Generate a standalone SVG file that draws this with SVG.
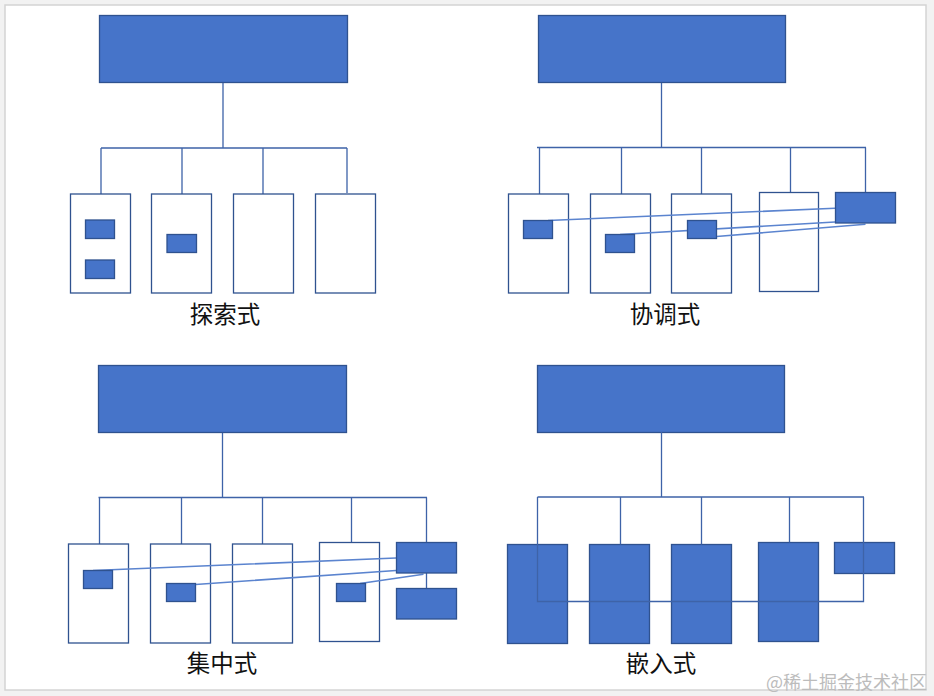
<svg xmlns="http://www.w3.org/2000/svg" width="934" height="696" viewBox="0 0 934 696">
<style>
.bg{fill:#f2f2f2}
.card{fill:#ffffff;stroke:#d4d4d4;stroke-width:1.5}
.top{fill:#4674C9;stroke:#2F528F;stroke-width:1.3}
.box{fill:#ffffff;stroke:#2F528F;stroke-width:1.3}
.fill{fill:#4674C9;stroke:#2F528F;stroke-width:1.3}
.tree{fill:none;stroke:#3E63A8;stroke-width:1.3}
.link{fill:none;stroke:#5B84CF;stroke-width:1.6}
.label{font-family:"Noto Sans CJK SC","Noto Sans CJK JP",sans-serif;font-size:23.5px;fill:#111111;text-anchor:middle}
.wm{font-family:"Noto Sans CJK SC",sans-serif;font-size:18px;fill:#bcbcbc;text-anchor:end}
</style>
<rect class="bg" x="0" y="0" width="934" height="696"/>
<rect class="card" x="5" y="5" width="921" height="685"/>

<!-- Panel 1: 探索式 -->
<g id="p1-connectors">
  <path class="tree" d="M223 82V148M101 148H347M101 148V194M182 148V194M263 148V194M347 148V193"/>
</g>
<g id="p1-top"><rect class="top" x="99.5" y="15.5" width="248" height="67"/></g>
<g id="p1-b1"><rect class="box" x="70.5" y="194" width="60" height="99"/>
  <rect class="fill" x="85.5" y="220" width="29" height="18.5"/>
  <rect class="fill" x="85.5" y="260" width="29" height="18.5"/></g>
<g id="p1-b2"><rect class="box" x="151.5" y="194" width="60" height="99"/>
  <rect class="fill" x="167" y="234.5" width="29.5" height="18"/></g>
<g id="p1-b3"><rect class="box" x="233.5" y="194" width="60" height="99"/></g>
<g id="p1-b4"><rect class="box" x="315.5" y="194" width="60" height="99"/></g>
<g id="p1-label"><text class="label" x="225" y="322.5">探索式</text></g>

<!-- Panel 2: 协调式 -->
<g id="p2-connectors">
  <path class="tree" d="M661.5 82V147.5M537 147.5H866M539.5 147.5V194M621.5 147.5V194M701.5 147.5V194M790.5 147.5V192M865.5 147.5V192"/>
</g>
<g id="p2-top"><rect class="top" x="538.5" y="15.5" width="247" height="67"/></g>
<g id="p2-b1"><rect class="box" x="508.5" y="194" width="60" height="99"/></g>
<g id="p2-b2"><rect class="box" x="590.5" y="194" width="60" height="99"/></g>
<g id="p2-b3"><rect class="box" x="671.5" y="194" width="60" height="99"/></g>
<g id="p2-b4"><rect class="box" x="759.5" y="192.5" width="59" height="99"/></g>
<g id="p2-links">
  <path class="link" d="M548 220.5L835 208.3M620 234.5L835 222M716.5 236.5L865.5 224.3"/>
</g>
<g id="p2-s1"><rect class="fill" x="523.5" y="220.5" width="29" height="18"/></g>
<g id="p2-s2"><rect class="fill" x="605.5" y="234.5" width="29" height="18"/></g>
<g id="p2-s3"><rect class="fill" x="687.5" y="220.5" width="29" height="18"/></g>
<g id="p2-hub"><rect class="fill" x="835.5" y="192.5" width="60" height="30.5"/></g>
<g id="p2-label"><text class="label" x="665" y="322.5">协调式</text></g>

<!-- Panel 3: 集中式 -->
<g id="p3-connectors">
  <path class="tree" d="M222.5 432V497.5M98.5 497.5H427M99.5 497.5V544M181.5 497.5V544M262.5 497.5V544M351.5 497.5V542.5M426.5 497.5V542.5M426.5 573V588.5"/>
</g>
<g id="p3-top"><rect class="top" x="98.5" y="365.5" width="248" height="67"/></g>
<g id="p3-b1"><rect class="box" x="68.5" y="544" width="60" height="99"/></g>
<g id="p3-b2"><rect class="box" x="150.5" y="544" width="60" height="99"/></g>
<g id="p3-b3"><rect class="box" x="232.5" y="544" width="60" height="99"/></g>
<g id="p3-b4"><rect class="box" x="319.5" y="542.5" width="60" height="99"/></g>
<g id="p3-links">
  <path class="link" d="M93 570.5L396 558M195.5 584.5L396 570.5M360 583.5L423.5 574.3"/>
</g>
<g id="p3-s1"><rect class="fill" x="83.5" y="570.5" width="29" height="18"/></g>
<g id="p3-s2"><rect class="fill" x="166.5" y="583.5" width="29" height="18"/></g>
<g id="p3-s4"><rect class="fill" x="336.5" y="583.5" width="29" height="18"/></g>
<g id="p3-hub"><rect class="fill" x="396.5" y="542.5" width="60" height="30.5"/></g>
<g id="p3-hub2"><rect class="fill" x="396.5" y="588.5" width="60" height="30.5"/></g>
<g id="p3-label"><text class="label" x="222" y="671.5">集中式</text></g>

<!-- Panel 4: 嵌入式 -->
<g id="p4-top"><rect class="top" x="537.5" y="365.5" width="247" height="67"/></g>
<g id="p4-b1"><rect class="fill" x="507.5" y="544.5" width="60" height="99"/></g>
<g id="p4-b2"><rect class="fill" x="589.5" y="544.5" width="60" height="99"/></g>
<g id="p4-b3"><rect class="fill" x="671.5" y="544.5" width="60" height="99"/></g>
<g id="p4-b4"><rect class="fill" x="758.5" y="542.5" width="60" height="99"/></g>
<g id="p4-b5"><rect class="fill" x="834.5" y="542.5" width="60" height="31"/></g>
<g id="p4-connectors">
  <path class="tree" d="M661.5 432V497M537.5 497H864M537.5 497V601.5H863.5V497M620.5 497V544.5M701.5 497V544.5M789.5 497V542.5"/>
</g>
<g id="p4-label"><text class="label" x="661" y="671.5">嵌入式</text></g>

<text class="wm" x="927" y="689">@稀土掘金技术社区</text>
</svg>
